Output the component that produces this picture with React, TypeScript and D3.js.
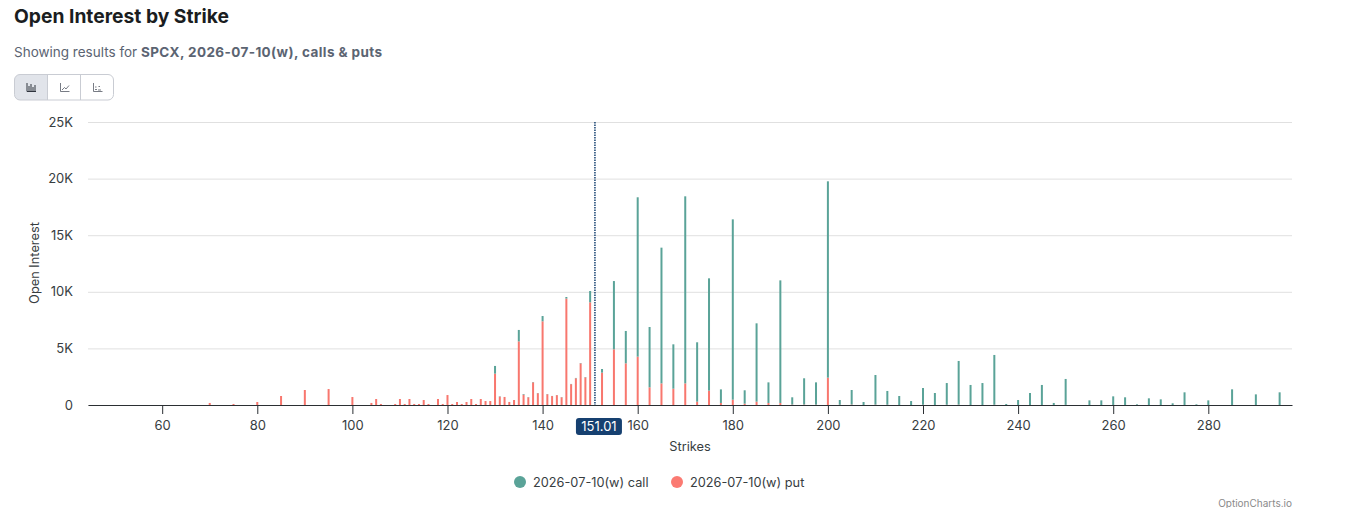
import React, { useEffect, useRef } from 'react';
import * as d3 from 'd3';

const strikes = [
  70, 75, 80, 85, 90, 95, 100, 104, 105, 106, 109, 110, 111, 112, 113, 114, 115, 116, 118, 119,
  120, 121, 122, 123, 124, 125, 126, 127, 128, 129, 130, 131, 132, 133, 134, 135, 136, 137, 138, 139,
  140, 141, 142, 143, 144, 145, 146, 147, 148, 149, 150, 152.5, 155, 157.5, 160, 162.5, 165, 167.5, 170, 172.5,
  175, 177.5, 180, 182.5, 185, 187.5, 190, 192.5, 195, 197.5, 200, 202.5, 205, 207.5, 210, 212.5, 215, 217.5, 220, 222.5,
  225, 227.5, 230, 232.5, 235, 237.5, 240, 242.5, 245, 247.5, 250, 255, 257.5, 260, 262.5, 265, 267.5, 270, 272.5, 275,
  277.5, 280, 285, 290, 295,
];

const putValues = [
  180, 90, 265, 795, 1325, 1410, 705, 180, 530, 90, 90, 530, 90, 530, 90, 90, 440, 90, 530, 90,
  880, 90, 265, 90, 265, 530, 90, 530, 350, 350, 2770, 740, 710, 270, 440, 5620, 915, 680, 2000, 1040,
  7390, 950, 790, 870, 680, 9400, 1840, 2360, 3680, 2440, 9070, 2860, 4920, 3680, 4270, 1560, 1910, 1440, 1910, 295,
  1270, 180, 470, 120, 295, 180, 180, 40, 40, 30, 2415, 20, 40, 0, 30, 20, 0, 0, 20, 0,
  20, 30, 0, 0, 20, 0, 0, 0, 0, 0, 10, 0, 0, 0, 0, 0, 0, 0, 0, 0,
  0, 0, 0, 0, 0,
];

const callValues = [
  0, 0, 0, 0, 0, 0, 0, 0, 0, 0, 0, 0, 0, 0, 0, 0, 0, 0, 0, 0,
  0, 0, 0, 0, 0, 0, 0, 0, 0, 0, 680, 30, 0, 0, 0, 1010, 55, 20, 30, 20,
  470, 20, 10, 10, 20, 140, 20, 30, 30, 30, 1000, 320, 6030, 2860, 14080, 5330, 11990, 3920, 16525, 5245,
  9920, 1200, 15930, 1180, 6920, 1820, 10830, 640, 2320, 1970, 17345, 420, 1285, 265, 2620, 1220, 795, 350, 1480, 1060,
  1920, 3860, 1770, 1940, 4400, 90, 440, 1060, 1770, 180, 2290, 410, 410, 765, 680, 60, 590, 500, 150, 1120,
  60, 410, 1385, 940, 1120,
];

const yTicks = [0, 5000, 10000, 15000, 20000, 25000];
const xTicks = [60, 80, 100, 120, 140, 160, 180, 200, 220, 240, 260, 280];
const spotPrice = 151.01;
const seriesNames = ['2026-07-10(w) call', '2026-07-10(w) put'];

const FONT = 'Inter, "Liberation Sans", sans-serif';
const CALL_COLOR = '#5aa398';
const PUT_COLOR = '#f8776e';
const WIDTH = 1372;
const HEIGHT = 508;

const App: React.FC = () => {
  const svgRef = useRef<SVGSVGElement>(null);

  useEffect(() => {
    if (!svgRef.current) return;
    const svg = d3.select(svgRef.current);
    svg.selectAll('*').remove();
    svg.attr('font-family', FONT);

    const xScale = d3.scaleLinear().domain([44.4, 297.6]).range([88, 1292]);
    const yScale = d3.scaleLinear().domain([0, 25000]).range([405, 122]);

    // Header
    svg.append('text').attr('x', 14).attr('y', 23).attr('font-size', 19.25).attr('font-weight', 700)
      .attr('fill', '#1a1d21').text('Open Interest by Strike');

    const sub = svg.append('text').attr('x', 14).attr('y', 57).attr('font-size', 13.5).attr('fill', '#5b6472');
    sub.append('tspan').text('Showing results for ');
    sub.append('tspan').attr('font-weight', 700).attr('letter-spacing', 0.4).text('SPCX, 2026-07-10(w), calls & puts');

    // Chart type buttons
    const btn = svg.append('g');
    btn.append('path').attr('d', 'M47.5,74.5H20a5.5,5.5 0 0 0 -5.5,5.5V94.5a5.5,5.5 0 0 0 5.5,5.5H47.5Z').attr('fill', '#e1e4ea');
    btn.append('rect').attr('x', 14.5).attr('y', 74.5).attr('width', 99).attr('height', 25.5).attr('rx', 5.5)
      .attr('fill', 'none').attr('stroke', '#c9ccd3');
    [47.5, 80.5].forEach((x) => {
      btn.append('line').attr('x1', x).attr('x2', x).attr('y1', 74.5).attr('y2', 100).attr('stroke', '#c9ccd3');
    });
    btn.append('path').attr('d', 'M27,83V91.5H36M29,91V86M31,91V84M33,91V87M35,91V85').attr('fill', 'none').attr('stroke', '#2f343d');
    btn.append('path').attr('d', 'M60.5,83V91.5H69.5M62,90L64.5,87.5L66,89L69,85.5').attr('fill', 'none').attr('stroke', '#555b66').attr('stroke-width', 0.8);
    btn.append('path').attr('d', 'M93.5,83V91.5H102.5M95,89.5H97M95,87H96.5M98,90H101M98.5,86.5H100').attr('fill', 'none').attr('stroke', '#555b66').attr('stroke-width', 0.8);

    // Grid lines
    svg.append('g')
      .attr('transform', 'translate(88,0)')
      .call(d3.axisLeft(yScale).tickValues(yTicks).tickSize(-1204).tickPadding(15)
        .tickFormat((v) => ((v as number) === 0 ? '0' : `${(v as number) / 1000}K`)))
      .call((g) => g.select('.domain').remove())
      .call((g) => g.selectAll('.tick line').attr('stroke', '#e0e0e0'))
      .call((g) => g.selectAll('.tick text').attr('fill', '#373d3f').attr('font-size', 13).attr('font-family', FONT));

    // Stacked bars, puts at the bottom
    const rows = strikes.map((strike, i) => ({ strike, put: putValues[i], call: callValues[i] }));
    const stacked = d3.stack<{ strike: number; put: number; call: number }>().keys(['put', 'call'])(rows);
    const colors = [PUT_COLOR, CALL_COLOR];
    stacked.forEach((layer, idx) => {
      svg.append('g').selectAll('rect').data(layer).enter().append('rect')
        .attr('x', (d) => xScale(d.data.strike) - 1)
        .attr('y', (d) => yScale(d[1]))
        .attr('width', 2)
        .attr('height', (d) => yScale(d[0]) - yScale(d[1]))
        .attr('fill', colors[idx]);
    });

    // x-axis
    svg.append('g')
      .attr('transform', 'translate(0,405)')
      .call(d3.axisBottom(xScale).tickValues(xTicks).tickSize(9).tickSizeOuter(0).tickPadding(7)
        .tickFormat((v) => `${v}`))
      .call((g) => g.select('.domain').attr('stroke', '#2b2f33').attr('stroke-width', 1))
      .call((g) => g.selectAll('.tick line').attr('stroke', '#2b2f33'))
      .call((g) => g.selectAll('.tick text').attr('fill', '#373d3f').attr('font-size', 13).attr('font-family', FONT));

    // Spot price marker
    const spotX = xScale(spotPrice);
    svg.append('line').attr('x1', spotX).attr('x2', spotX).attr('y1', 122).attr('y2', 405)
      .attr('stroke', '#164070').attr('stroke-width', 1.5).attr('stroke-dasharray', '1.5,1');
    svg.append('rect').attr('x', spotX - 19).attr('y', 418).attr('width', 46).attr('height', 17).attr('rx', 3).attr('fill', '#164070');
    svg.append('text').attr('x', spotX + 4).attr('y', 431).attr('text-anchor', 'middle').attr('font-size', 13)
      .attr('fill', '#ffffff').text(spotPrice.toFixed(2));

    // Axis titles
    svg.append('text').attr('x', 690).attr('y', 451).attr('text-anchor', 'middle').attr('font-size', 12.8)
      .attr('fill', '#373d3f').text('Strikes');
    svg.append('text').attr('transform', 'translate(39,263) rotate(-90)').attr('text-anchor', 'middle').attr('font-size', 12.8)
      .attr('fill', '#373d3f').text('Open Interest');

    // Legend
    const legendX = [520, 677];
    seriesNames.forEach((name, i) => {
      svg.append('circle').attr('cx', legendX[i]).attr('cy', 482).attr('r', 6).attr('fill', i === 0 ? CALL_COLOR : '#fb7a72');
      svg.append('text').attr('x', legendX[i] + 13).attr('y', 486.5).attr('font-size', 12.75).attr('fill', '#373d3f').text(name);
    });

    svg.append('text').attr('x', 1292).attr('y', 507).attr('text-anchor', 'end').attr('font-size', 10)
      .attr('fill', '#8a8a8a').text('OptionCharts.io');
  }, []);

  return (
    <div style={{ position: 'absolute', left: 0, top: 0 }}>
      <svg ref={svgRef} width={WIDTH} height={HEIGHT} style={{ display: 'block' }} />
    </div>
  );
};

export default App;
